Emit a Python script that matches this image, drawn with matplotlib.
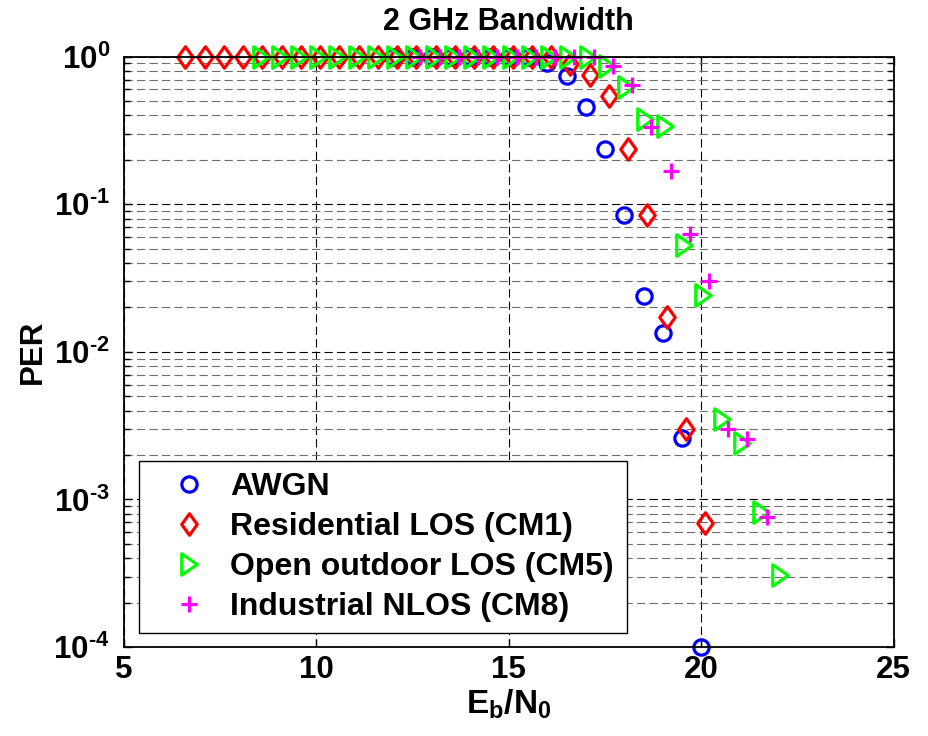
import matplotlib
matplotlib.use("Agg")
import matplotlib.pyplot as plt
from matplotlib.path import Path
from matplotlib.ticker import FixedLocator, LogLocator, NullFormatter, NullLocator

plt.rcParams["font.family"] = ["Liberation Sans", "DejaVu Sans"]
plt.rcParams["font.weight"] = "bold"
plt.rcParams["mathtext.fontset"] = "custom"
plt.rcParams["mathtext.rm"] = "Liberation Sans:bold"
plt.rcParams["mathtext.bf"] = "Liberation Sans:bold"
plt.rcParams["mathtext.default"] = "bf"
plt.rcParams["lines.scale_dashes"] = False

# PER vs Eb/N0, 2 GHz bandwidth
ebn0_awgn = [12.0, 12.5, 13.0, 13.5, 14.0, 14.5, 15.0, 15.5, 16.0, 16.5,
             17.0, 17.5, 18.0, 18.5, 19.0, 19.5, 20.0]
per_awgn = [1.0, 1.0, 1.0, 1.0, 1.0, 1.0, 1.0, 1.0, 0.90, 0.745,
            0.459, 0.237, 0.085, 0.0238, 0.0135, 0.00262, 0.0001]

ebn0_cm1 = [6.6, 7.1, 7.6, 8.1, 8.6, 9.1, 9.6, 10.1, 10.6, 11.1, 11.6, 12.1,
            12.6, 13.1, 13.6, 14.1, 14.6, 15.1, 15.6, 16.1, 16.6, 17.1, 17.6,
            18.1, 18.6, 19.1, 19.6, 20.1]
per_cm1 = [1.0, 1.0, 1.0, 1.0, 1.0, 1.0, 1.0, 1.0, 1.0, 1.0, 1.0, 1.0,
           1.0, 1.0, 1.0, 1.0, 1.0, 1.0, 1.0, 1.0, 0.89, 0.75, 0.544,
           0.237, 0.085, 0.0172, 0.00302, 0.000687]

ebn0_cm5 = [8.55, 9.05, 9.55, 10.05, 10.55, 11.05, 11.55, 12.05, 12.55, 13.05,
            13.55, 14.05, 14.55, 15.05, 15.55, 16.05, 16.55, 17.05, 17.55,
            18.05, 18.55, 19.05, 19.55, 20.05, 20.55, 21.05, 21.55, 22.05]
per_cm5 = [1.0, 1.0, 1.0, 1.0, 1.0, 1.0, 1.0, 1.0, 1.0, 1.0,
           1.0, 1.0, 1.0, 1.0, 1.0, 1.0, 1.0, 1.0, 0.87,
           0.62, 0.379, 0.341, 0.0526, 0.0243, 0.00351, 0.00241, 0.00082, 0.000306]

ebn0_cm8 = [12.7, 13.2, 13.7, 14.2, 14.7, 15.2, 15.7, 16.2, 16.7, 17.2,
            17.7, 18.2, 18.7, 19.2, 19.7, 20.2, 20.7, 21.2, 21.7]
per_cm8 = [1.0, 1.0, 1.0, 1.0, 1.0, 1.0, 1.0, 1.0, 1.0, 1.0,
           0.87, 0.64, 0.336, 0.169, 0.063, 0.0301, 0.00299, 0.00255, 0.00076]

x_ticks = [5, 10, 15, 20, 25]
y_ticks = [1e-4, 1e-3, 1e-2, 1e-1, 1e0]
y_tick_labels = [r"$10^{\text{-}4}$", r"$10^{\text{-}3}$", r"$10^{\text{-}2}$",
                 r"$10^{\text{-}1}$", r"$10^{0}$"]

# taller-than-wide diamond and right triangle
diamond = Path([(0, 1), (0.72, 0), (0, -1), (-0.72, 0), (0, 1)],
               [Path.MOVETO, Path.LINETO, Path.LINETO, Path.LINETO, Path.CLOSEPOLY])
tri_right = Path([(-0.72, 1), (0.72, 0), (-0.72, -1), (-0.72, 1)],
                 [Path.MOVETO, Path.LINETO, Path.LINETO, Path.CLOSEPOLY])

fig = plt.figure(figsize=(9.29, 7.36), dpi=100, facecolor="white")
ax = fig.add_axes([0.1333, 0.121, 0.8288, 0.802])

style = dict(linestyle="none", markerfacecolor="none", markeredgewidth=2.3, clip_on=False)
ax.plot(ebn0_awgn, per_awgn, marker="o", markersize=11, color="#0000ff", label="AWGN", **style)
ax.plot(ebn0_cm1, per_cm1, marker=diamond, markersize=15.5, color="#ff0000",
        label="Residential LOS (CM1)", **style)
ax.plot(ebn0_cm5, per_cm5, marker=tri_right, markersize=15.5, color="#00ff00",
        label="Open outdoor LOS (CM5)", **style)
ax.plot(ebn0_cm8, per_cm8, marker="+", markersize=12, color="#ff00ff",
        label="Industrial NLOS (CM8)", **style)

ax.set_yscale("log")
ax.set_xlim(5, 25)
ax.set_ylim(1e-4, 1)
ax.xaxis.set_major_locator(FixedLocator(x_ticks))
ax.xaxis.set_minor_locator(NullLocator())
ax.set_yticks(y_ticks)
ax.set_yticklabels(y_tick_labels)
ax.yaxis.set_minor_locator(LogLocator(base=10, subs=range(2, 10), numticks=20))
ax.yaxis.set_minor_formatter(NullFormatter())

ax.tick_params(which="both", direction="in", top=True, right=True, width=1.0)
ax.tick_params(which="major", length=6, labelsize=22.5)
ax.tick_params(axis="x", which="major", pad=6)
ax.tick_params(axis="y", which="major", pad=10)
ax.tick_params(which="minor", length=4)

ax.grid(True, which="major", color="black", linestyle=(0, (6, 3)), linewidth=0.8)
ax.grid(True, which="minor", axis="y", color="#6e6e6e", linestyle=(0, (6, 3)), linewidth=0.8)
ax.set_axisbelow(True)
for s in ax.spines.values():
    s.set_linewidth(1.3)
    s.set_color("black")

ax.set_title("2 GHz Bandwidth", fontsize=22, fontweight="bold", pad=19)
ax.set_xlabel(r"$E_b/N_0$", fontsize=24, labelpad=2)
ax.set_ylabel("PER", fontsize=22.5, fontweight="bold", labelpad=4)

leg = ax.legend(loc="lower left", bbox_to_anchor=(0.0201, 0.0232, 0.633, 0.2),
                mode="expand", borderaxespad=0, numpoints=1, fontsize=23,
                handlelength=2.45, handletextpad=0.05, borderpad=0.34, labelspacing=0.32,
                fancybox=False, framealpha=1, edgecolor="black")
leg.get_frame().set_linewidth(1.0)
for h in leg.legend_handles:
    h.set_clip_on(True)

fig.savefig("out.png", dpi=100, facecolor="white")
